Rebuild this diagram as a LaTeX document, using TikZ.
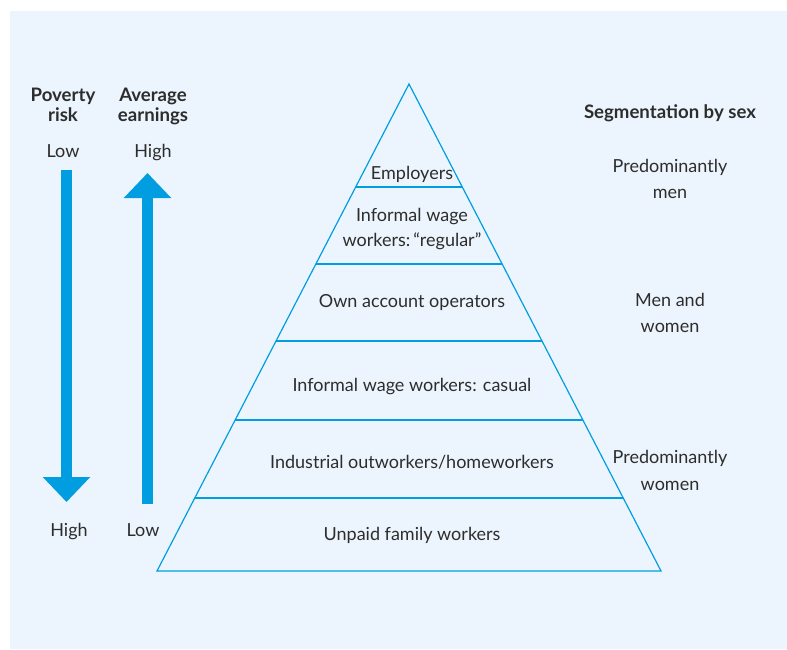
\documentclass[tikz,border=0pt]{standalone}
\usepackage{fontspec}
\setmainfont{Lato}
\usetikzlibrary{arrows.meta,calc}
\definecolor{bgblue}{RGB}{236,245,253}
\definecolor{pyrblue}{RGB}{0,158,224}
\definecolor{txtgrey}{RGB}{45,45,45}
\begin{document}
\begin{tikzpicture}[x=1pt,y=-1pt,
  lbl/.style={anchor=base,inner sep=0pt,text=txtgrey,font=\fontsize{18}{21}\selectfont},
  hd/.style={lbl,font=\fontsize{18.6}{21}\selectfont\bfseries},
  pyr/.style={draw=pyrblue,line width=1.2pt,line join=miter},
  bigarrow/.style={draw=pyrblue,line width=11pt,-{Triangle[width=46pt,length=25pt]}}]
\useasboundingbox (0,0) rectangle (787,649);
\fill[bgblue] (10,11) rectangle (787,649);
% pyramid
\coordinate (apex) at (409,84);
\coordinate (bl) at (157,571);
\coordinate (br) at (661,571);
\draw[pyr] (apex) -- (br) -- (bl) -- cycle;
\foreach \t/\n in {0.2115/a,0.3696/b,0.5277/c,0.6899/d,0.8501/e}{
  \coordinate (L\n) at ($(apex)!\t!(bl)$);
  \coordinate (R\n) at ($(apex)!\t!(br)$);
  \draw[pyr] (L\n) -- (R\n);
}
% pyramid labels
\node[lbl] (emp) at (412,179) {Employers};
\node[lbl] (iwr1) at (412,221) {Informal wage};
\node[lbl] (iwr2) at (412,246) {workers:\,“regular”};
\node[lbl] (own) at (412,307) {Own account operators};
\node[lbl] (iwc) at (412,391) {Informal wage workers: casual};
\node[lbl] (ind) at (412,468) {Industrial outworkers/homeworkers};
\node[lbl] (unp) at (412,540) {Unpaid family workers};
% left headings
\node[hd] (pov1) at (63,101) {Poverty};
\node[hd] (pov2) at (63,121) {risk};
\node[hd] (avg1) at (153,101) {Average};
\node[hd] (avg2) at (153,121) {earnings};
\node[lbl] (povlow) at (63,157) {Low};
\node[lbl] (avghigh) at (153,157) {High};
\node[lbl] (povhigh) at (69,536) {High};
\node[lbl] (avglow) at (143,536) {Low};
% arrows
\coordinate (dtop) at (66.5,170);
\coordinate (dtip) at (66.5,502);
\coordinate (ubot) at (147.5,504);
\coordinate (utip) at (147.5,173);
\draw[bigarrow] (dtop) -- (dtip);
\draw[bigarrow] (ubot) -- (utip);
% right column
\node[hd] (seg) at (670,118) {Segmentation by sex};
\node[lbl] (pm1) at (670,172) {Predominantly};
\node[lbl] (pm2) at (670,198) {men};
\node[lbl] (mw1) at (670,306) {Men and};
\node[lbl] (mw2) at (670,332) {women};
\node[lbl] (pw1) at (670,463) {Predominantly};
\node[lbl] (pw2) at (670,490) {women};
\end{tikzpicture}
\end{document}
